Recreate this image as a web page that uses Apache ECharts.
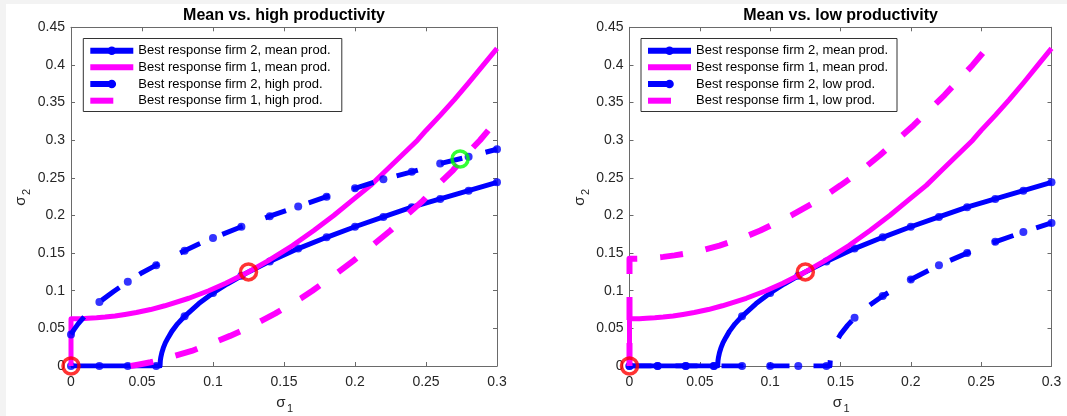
<!DOCTYPE html>
<html><head><meta charset="utf-8">
<script src="https://cdn.jsdelivr.net/npm/echarts@6/dist/echarts.min.js"></script>
<style>html,body{margin:0;padding:0;background:#fff}#c{width:1067px;height:416px}</style>
</head><body><div id="c"></div>
<script>
// ---------- text ----------
const titles = ['Mean vs. high productivity', 'Mean vs. low productivity'];
const legendLeft = ['Best response firm 2, mean prod.', 'Best response firm 1, mean prod.', 'Best response firm 2, high prod.', 'Best response firm 1, high prod.'];
const legendRight = ['Best response firm 2, mean prod.', 'Best response firm 1, mean prod.', 'Best response firm 2, low prod.', 'Best response firm 1, low prod.'];
const xAxisRange = [0, 0.3, 0.05];
const yAxisRange = [0, 0.45, 0.05];

// ---------- data (sigma1, sigma2) ----------
// firm 2 best response, mean productivity (sigma2 as function of sigma1)
const br2MeanS1 = [0, 0.0627, 0.0629, 0.0633, 0.064, 0.065, 0.0665, 0.0685, 0.071, 0.075, 0.08, 0.09, 0.1, 0.11, 0.125, 0.14, 0.16, 0.18, 0.2, 0.22, 0.24, 0.26, 0.28, 0.3];
const br2MeanS2 = [0, 0, 0.007, 0.012, 0.018, 0.024, 0.031, 0.038, 0.046, 0.056, 0.066, 0.083, 0.097, 0.109, 0.125, 0.139, 0.156, 0.171, 0.185, 0.198, 0.211, 0.222, 0.233, 0.244];
// firm 1 best response, mean productivity
const br1MeanS1 = [0, 0, 0.007, 0.012, 0.018, 0.024, 0.031, 0.038, 0.046, 0.056, 0.066, 0.083, 0.097, 0.109, 0.125, 0.139, 0.156, 0.171, 0.185, 0.198, 0.211, 0.222, 0.233, 0.244, 0.25, 0.26, 0.27, 0.28, 0.29, 0.3];
const br1MeanS2 = [0, 0.0627, 0.0629, 0.0633, 0.064, 0.065, 0.0665, 0.0685, 0.071, 0.075, 0.08, 0.09, 0.1, 0.11, 0.125, 0.14, 0.16, 0.18, 0.2, 0.22, 0.24, 0.26, 0.28, 0.3, 0.313, 0.333, 0.354, 0.376, 0.399, 0.422];
// firm 2 best response, high productivity
const br2HighS1 = [0, 0.002, 0.005, 0.01, 0.015, 0.02, 0.03, 0.04, 0.05, 0.06, 0.07, 0.08, 0.09, 0.1, 0.12, 0.14, 0.16, 0.18, 0.2, 0.22, 0.24, 0.26, 0.28, 0.3];
const br2HighS2 = [0.042, 0.048, 0.056, 0.067, 0.076, 0.085, 0.099, 0.112, 0.124, 0.134, 0.144, 0.153, 0.162, 0.17, 0.185, 0.199, 0.212, 0.225, 0.236, 0.248, 0.258, 0.269, 0.278, 0.288];
// firm 1 best response, high productivity
const br1HighS1 = [0.042, 0.048, 0.056, 0.067, 0.076, 0.085, 0.099, 0.112, 0.124, 0.134, 0.144, 0.153, 0.162, 0.17, 0.185, 0.199, 0.212, 0.225, 0.236, 0.248, 0.258, 0.269, 0.278, 0.288, 0.297, 0.3];
const br1HighS2 = [0, 0.002, 0.005, 0.01, 0.015, 0.02, 0.03, 0.04, 0.05, 0.06, 0.07, 0.08, 0.09, 0.1, 0.12, 0.14, 0.16, 0.18, 0.2, 0.22, 0.24, 0.26, 0.28, 0.3, 0.32, 0.327];
// firm 2 best response, low productivity
const br2LowS1 = [0, 0.1425, 0.1427, 0.1431, 0.1438, 0.145, 0.147, 0.15, 0.155, 0.16, 0.17, 0.18, 0.2, 0.22, 0.24, 0.26, 0.28, 0.3];
const br2LowS2 = [0, 0, 0.007, 0.012, 0.017, 0.024, 0.032, 0.042, 0.054, 0.064, 0.08, 0.093, 0.115, 0.134, 0.15, 0.165, 0.178, 0.19];
// firm 1 best response, low productivity
const br1LowS1 = [0, 0, 0.007, 0.012, 0.017, 0.024, 0.032, 0.042, 0.054, 0.064, 0.08, 0.093, 0.115, 0.134, 0.15, 0.165, 0.178, 0.19, 0.202, 0.213, 0.224, 0.234, 0.244, 0.253, 0.261];
const br1LowS2 = [0, 0.1425, 0.1427, 0.1431, 0.1438, 0.145, 0.147, 0.15, 0.155, 0.16, 0.17, 0.18, 0.2, 0.22, 0.24, 0.26, 0.28, 0.3, 0.32, 0.34, 0.36, 0.38, 0.4, 0.42, 0.437];
// markers on the firm 2 curves
const markerS1 = [0, 0.02, 0.04, 0.06, 0.08, 0.1, 0.12, 0.14, 0.16, 0.18, 0.2, 0.22, 0.24, 0.26, 0.28, 0.3];
const meanMarkerS2 = [0, 0, 0, 0, 0.066, 0.097, 0.12, 0.139, 0.156, 0.171, 0.185, 0.198, 0.211, 0.222, 0.233, 0.244];
const highMarkerS2 = [0.042, 0.085, 0.112, 0.134, 0.153, 0.17, 0.185, 0.199, 0.212, 0.225, 0.236, 0.248, 0.258, 0.269, 0.278, 0.288];
const lowMarkerS2 = [0, 0, 0, 0, 0, 0, 0, 0, 0.064, 0.093, 0.115, 0.134, 0.15, 0.165, 0.178, 0.19];
// equilibria
const redEqS1 = [0, 0.125];
const redEqS2 = [0, 0.125];
const greenEqS1 = [0.274];
const greenEqS2 = [0.275];

// ---------- chart ----------
const FONT = '"Liberation Sans", Arial, Helvetica, sans-serif';
const AX = '#6a6a6a';
const BLUE = '#0000ff', MAG = '#ff00ff';
const DASH = [23, 23], DASHDOT = [22, 24];
const zip = (a, b) => a.map((v, i) => [v, b[i]]);

const gridPos = [
  {left: 71, top: 27.3, width: 426, height: 338.7},
  {left: 629.5, top: 27.3, width: 422, height: 338.7}
];

const xAxes = [], yAxes = [];
gridPos.forEach((g, gi) => {
  ['bottom', 'top'].forEach((p, k) => xAxes.push({
    gridIndex: gi, type: 'value', position: p, min: xAxisRange[0], max: xAxisRange[1], interval: xAxisRange[2],
    axisLine: {show: true, onZero: false, lineStyle: {color: AX, width: 1}},
    axisTick: {show: true, inside: true, length: 4, lineStyle: {color: AX, width: 1}},
    splitLine: {show: false},
    axisLabel: {show: k === 0, color: '#262626', fontSize: 14, fontFamily: FONT, margin: 9}
  }));
  ['left', 'right'].forEach((p, k) => yAxes.push({
    gridIndex: gi, type: 'value', position: p, min: yAxisRange[0], max: yAxisRange[1], interval: yAxisRange[2],
    axisLine: {show: true, onZero: false, lineStyle: {color: AX, width: 1}},
    axisTick: {show: true, inside: true, length: 4, lineStyle: {color: AX, width: 1}},
    splitLine: {show: false},
    axisLabel: {show: k === 0, color: '#262626', fontSize: 14, fontFamily: FONT, margin: 6}
  }));
});

function lineS(g, s1, s2, color, width, type, z) {
  return {type: 'line', xAxisIndex: 2 * g, yAxisIndex: 2 * g, data: zip(s1, s2), showSymbol: false, symbol: 'none',
    lineStyle: {color, width, type, cap: 'butt', join: 'round'}, z, silent: true, animation: false};
}
function markS(g, s1, s2, z) {
  return {type: 'scatter', xAxisIndex: 2 * g, yAxisIndex: 2 * g, data: zip(s1, s2), symbol: 'circle', symbolSize: 8,
    itemStyle: {color: BLUE}, z, clip: false, silent: true, animation: false};
}
function ringS(g, s1, s2, color) {
  return {type: 'scatter', xAxisIndex: 2 * g, yAxisIndex: 2 * g, data: zip(s1, s2), symbol: 'circle', symbolSize: 16,
    itemStyle: {color: 'rgba(0,0,0,0)', borderColor: color, borderWidth: 3.5}, z: 20, clip: false, silent: true, animation: false};
}

const series = [
  lineS(0, br2MeanS1, br2MeanS2, BLUE, 5, 'solid', 3), markS(0, markerS1, meanMarkerS2, 4),
  lineS(0, br1MeanS1, br1MeanS2, MAG, 5, 'solid', 5),
  lineS(0, br2HighS1, br2HighS2, BLUE, 5, DASHDOT, 6), markS(0, markerS1, highMarkerS2, 7),
  lineS(0, br1HighS1, br1HighS2, MAG, 6, DASH, 8),
  ringS(0, redEqS1, redEqS2, '#ff0000'), ringS(0, greenEqS1, greenEqS2, '#00ff00'),
  lineS(1, br2MeanS1, br2MeanS2, BLUE, 5, 'solid', 3), markS(1, markerS1, meanMarkerS2, 4),
  lineS(1, br1MeanS1, br1MeanS2, MAG, 5, 'solid', 5),
  lineS(1, br2LowS1, br2LowS2, BLUE, 5, DASHDOT, 6), markS(1, markerS1, lowMarkerS2, 7),
  lineS(1, br1LowS1, br1LowS2, MAG, 6, DASH, 8),
  ringS(1, redEqS1, redEqS2, '#ff0000')
];

// ---------- decorations (titles, axis names, legends) ----------
const graphics = [
  {type: 'rect', shape: {x: 0, y: 0, width: 1067, height: 4}, style: {fill: '#f3f3f3'}, z: 0},
  {type: 'rect', shape: {x: 0, y: 0, width: 6, height: 416}, style: {fill: '#f3f3f3'}, z: 0}
];
gridPos.forEach((g, gi) => {
  const cx = g.left + g.width / 2;
  graphics.push({type: 'text', x: cx, y: 16, z: 50, style: {text: titles[gi], font: 'bold 16px ' + FONT, fill: '#000', align: 'center', verticalAlign: 'middle'}});
  graphics.push({type: 'group', x: cx - 3, y: 403, z: 50, children: [
    {type: 'text', x: 0, y: 0, style: {text: 'σ', font: '15px ' + FONT, fill: '#262626', align: 'center', verticalAlign: 'middle'}},
    {type: 'text', x: 6, y: 6, style: {text: '1', font: '11px ' + FONT, fill: '#262626', align: 'left', verticalAlign: 'middle'}}
  ]});
  graphics.push({type: 'group', x: g.left - 50, y: 201, rotation: Math.PI / 2, z: 50, children: [
    {type: 'text', x: 0, y: 0, style: {text: 'σ', font: '15px ' + FONT, fill: '#262626', align: 'center', verticalAlign: 'middle'}},
    {type: 'text', x: 6, y: 6, style: {text: '2', font: '11px ' + FONT, fill: '#262626', align: 'left', verticalAlign: 'middle'}}
  ]});
});

function legend(ox, labels, w) {
  const rowsY = [50.7, 67.3, 84, 100.7];
  const els = [{type: 'rect', shape: {x: ox, y: 38.5, width: w, height: 73}, style: {fill: '#fff', stroke: '#333', lineWidth: 1}, z: 60}];
  const lx = ox + 7;
  const specs = [
    {c: BLUE, len: 43, dot: 21.5}, {c: MAG, len: 43}, {c: BLUE, len: 23, dot: 21.5}, {c: MAG, len: 23}
  ];
  specs.forEach((s, i) => {
    const y = rowsY[i];
    els.push({type: 'line', shape: {x1: lx, y1: y, x2: lx + s.len, y2: y}, style: {stroke: s.c, lineWidth: 6}, z: 61});
    if (s.dot !== undefined) els.push({type: 'circle', shape: {cx: lx + s.dot, cy: y, r: 4.3}, style: {fill: s.c}, z: 62});
    els.push({type: 'text', x: ox + 55, y: y, z: 62, style: {text: labels[i], font: '13px ' + FONT, fill: '#000', align: 'left', verticalAlign: 'middle'}});
  });
  return els;
}
graphics.push(...legend(83.3, legendLeft, 258.5));
graphics.push(...legend(641, legendRight, 256));

const chart = echarts.init(document.getElementById('c'));
chart.setOption({
  animation: false,
  backgroundColor: '#ffffff',
  grid: gridPos.map(g => Object.assign({containLabel: false, show: false}, g)),
  xAxis: xAxes,
  yAxis: yAxes,
  series,
  graphic: {elements: graphics}
});
</script></body></html>
